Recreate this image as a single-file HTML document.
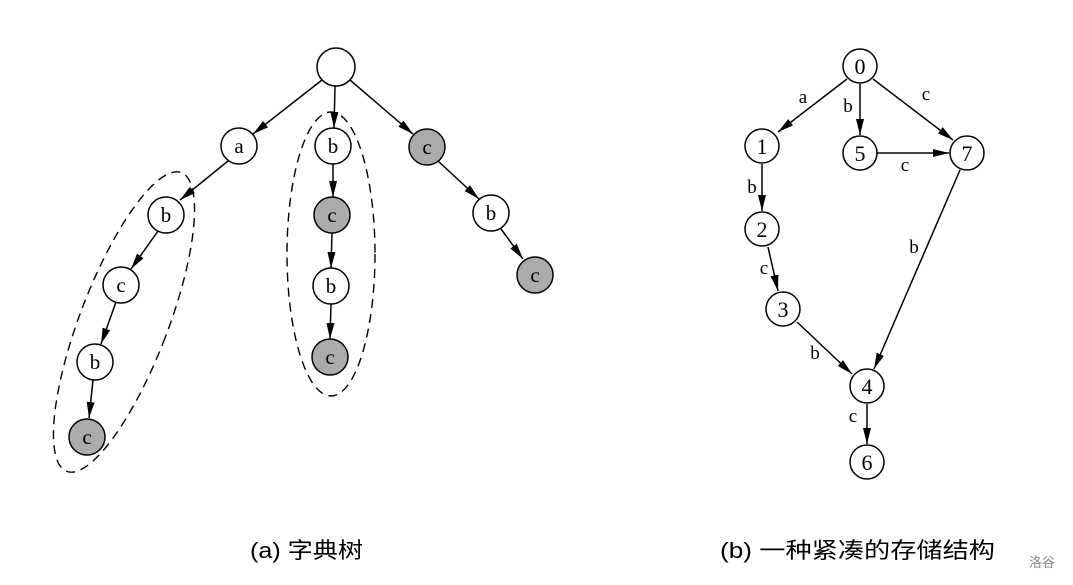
<!DOCTYPE html>
<html><head><meta charset="utf-8"><style>
html,body{margin:0;padding:0;background:#fff;width:1073px;height:585px;overflow:hidden}
svg text{font-family:"Liberation Serif","Noto Serif CJK SC",serif}
svg text.cap{font-family:"Liberation Sans","Noto Sans CJK SC",sans-serif}
</style></head><body>
<svg width="1073" height="585" viewBox="0 0 1073 585" xmlns="http://www.w3.org/2000/svg">
<defs>
<marker id="ar" markerWidth="16" markerHeight="8" refX="16" refY="4" orient="auto" markerUnits="userSpaceOnUse">
<path d="M0,0 L16,4 L0,8 Z" fill="#000"/></marker>
</defs>
<g stroke="#000" stroke-width="1.5" fill="none" marker-end="url(#ar)">
<line x1="322" y1="80" x2="253" y2="134"/>
<line x1="335" y1="86" x2="334" y2="128"/>
<line x1="350" y1="80" x2="413" y2="134"/>
<line x1="228" y1="161" x2="180" y2="200"/>
<line x1="158" y1="231" x2="131" y2="269"/>
<line x1="116" y1="302" x2="101" y2="344"/>
<line x1="93" y1="380" x2="89" y2="418"/>
<line x1="333" y1="164" x2="333" y2="197"/>
<line x1="332" y1="233" x2="331" y2="268"/>
<line x1="331" y1="304" x2="330" y2="339"/>
<line x1="438" y1="161" x2="479" y2="199"/>
<line x1="501" y1="229" x2="523" y2="259"/>
<line x1="847" y1="79" x2="778" y2="132"/>
<line x1="860" y1="84" x2="860" y2="135"/>
<line x1="873" y1="79" x2="953" y2="140"/>
<line x1="877" y1="153" x2="949" y2="153"/>
<line x1="762" y1="164" x2="762" y2="211"/>
<line x1="768" y1="247" x2="778" y2="291"/>
<line x1="797" y1="322" x2="852" y2="374"/>
<line x1="960" y1="170" x2="874" y2="369"/>
<line x1="867" y1="404" x2="867" y2="444"/>
</g>
<g stroke="#000" stroke-width="1.4" fill="none" stroke-dasharray="9,6">
<ellipse cx="331" cy="254" rx="44" ry="142"/>
<ellipse cx="124" cy="322" rx="44" ry="160" transform="rotate(21 124 322)"/>
</g>
<g stroke="#000" stroke-width="1.5" fill="#fff">
<circle cx="336" cy="67" r="19"/>
<circle cx="239" cy="146" r="18"/>
<circle cx="166" cy="215" r="18"/>
<circle cx="121" cy="285" r="18"/>
<circle cx="95" cy="362" r="18"/>
<circle cx="333" cy="146" r="18"/>
<circle cx="331" cy="286" r="18"/>
<circle cx="491" cy="213" r="18"/>
</g>
<g stroke="#000" stroke-width="1.5" fill="#ababab">
<circle cx="87" cy="437" r="18"/>
<circle cx="332" cy="215" r="18"/>
<circle cx="330" cy="357" r="18"/>
<circle cx="427" cy="147" r="18"/>
<circle cx="535" cy="275" r="18"/>
</g>
<g font-size="21" text-anchor="middle" fill="#000">
<text x="239" y="153">a</text>
<text x="166" y="222">b</text>
<text x="121" y="292">c</text>
<text x="95" y="369">b</text>
<text x="87" y="444">c</text>
<text x="333" y="153">b</text>
<text x="332" y="222">c</text>
<text x="331" y="293">b</text>
<text x="330" y="364">c</text>
<text x="427" y="154">c</text>
<text x="491" y="220">b</text>
<text x="535" y="282">c</text>
</g>
<g stroke="#000" stroke-width="1.5" fill="#fff">
<circle cx="860" cy="66" r="17"/>
<circle cx="762" cy="146" r="17"/>
<circle cx="860" cy="153" r="17"/>
<circle cx="967" cy="153" r="17"/>
<circle cx="762" cy="229" r="17"/>
<circle cx="783" cy="309" r="17"/>
<circle cx="867" cy="386" r="17"/>
<circle cx="867" cy="462" r="17"/>
</g>
<g font-size="22" text-anchor="middle" fill="#000">
<text x="860" y="74">0</text>
<text x="762" y="154">1</text>
<text x="860" y="161">5</text>
<text x="967" y="161">7</text>
<text x="762" y="237">2</text>
<text x="783" y="317">3</text>
<text x="867" y="394">4</text>
<text x="867" y="470">6</text>
</g>
<g font-size="19" text-anchor="middle" fill="#000">
<text x="803" y="103">a</text>
<text x="848" y="112">b</text>
<text x="926" y="100">c</text>
<text x="905" y="171">c</text>
<text x="752" y="193">b</text>
<text x="764" y="274">c</text>
<text x="914" y="253">b</text>
<text x="815" y="359">b</text>
<text x="853" y="422">c</text>
</g>
<text class="cap" x="250" y="558" font-size="22" textLength="113" lengthAdjust="spacingAndGlyphs">(a) 字典树</text>
<text class="cap" x="720" y="558" font-size="22" textLength="275" lengthAdjust="spacingAndGlyphs">(b) 一种紧凑的存储结构</text>
<text class="cap" x="1029" y="567" font-size="13" fill="#888">洛谷</text>
</svg>
</body></html>
